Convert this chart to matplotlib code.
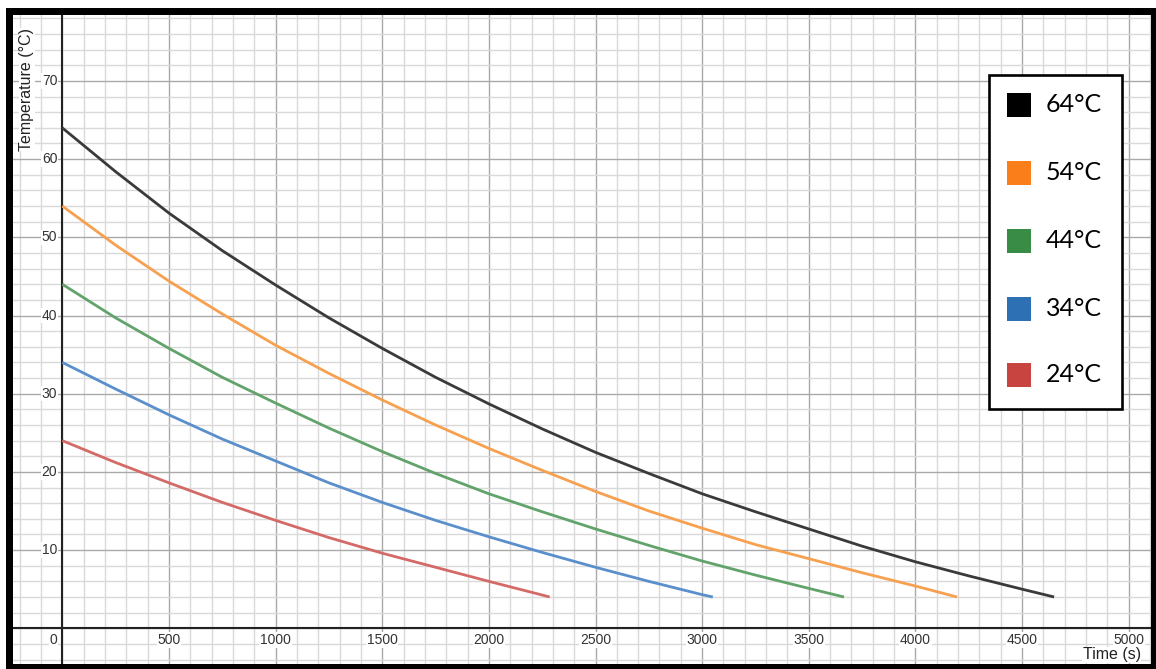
import matplotlib
matplotlib.use("Agg")
import matplotlib.pyplot as plt
from matplotlib.patches import Rectangle
import numpy as np

# ---------------- data ----------------
series_labels = ["64°C", "54°C", "44°C", "34°C", "24°C"]

t_64 = [0, 250, 500, 750, 1000, 1250, 1500, 1750, 2000, 2250, 2500, 2750,
        3000, 3250, 3500, 3750, 4000, 4250, 4500, 4650]
T_64 = [64.0, 58.4, 53.1, 48.3, 43.9, 39.7, 35.8, 32.1, 28.7, 25.5, 22.5, 19.8,
        17.2, 14.9, 12.7, 10.5, 8.5, 6.7, 5.0, 4.0]

t_54 = [0, 250, 500, 750, 1000, 1250, 1500, 1750, 2000, 2250, 2500, 2750,
        3000, 3250, 3500, 3750, 4000, 4195]
T_54 = [54.0, 49.0, 44.4, 40.2, 36.2, 32.6, 29.2, 26.0, 23.0, 20.2, 17.5, 15.0,
        12.8, 10.7, 8.9, 7.1, 5.4, 4.0]

t_44 = [0, 250, 500, 750, 1000, 1250, 1500, 1750, 2000, 2250, 2500, 2750,
        3000, 3250, 3500, 3665]
T_44 = [44.0, 39.7, 35.8, 32.1, 28.8, 25.6, 22.6, 19.8, 17.2, 14.9, 12.7, 10.6,
        8.6, 6.8, 5.1, 4.0]

t_34 = [0, 250, 500, 750, 1000, 1250, 1500, 1750, 2000, 2250, 2500, 2750,
        3000, 3050]
T_34 = [34.0, 30.6, 27.3, 24.2, 21.4, 18.6, 16.1, 13.8, 11.7, 9.7, 7.8, 6.0,
        4.3, 4.0]

t_24 = [0, 250, 500, 750, 1000, 1250, 1500, 1750, 2000, 2250, 2285]
T_24 = [24.0, 21.2, 18.6, 16.1, 13.8, 11.6, 9.6, 7.8, 6.0, 4.25, 4.0]

x_tick_labels = [500, 1000, 1500, 2000, 2500, 3000, 3500, 4000, 4500, 5000]
y_tick_labels = [10, 20, 30, 40, 50, 60, 70]

legend_colors = ["#000000", "#fa7e19", "#388c46", "#2d70b3", "#c74440"]
curve_colors = ["#3a3a3a", "#f7a050", "#62a36b", "#5a8fcb", "#d46a68"]

# ---------------- figure ----------------
W, H = 1156, 669
fig = plt.figure(figsize=(W / 100, H / 100), dpi=100)
fig.patch.set_facecolor("white")

def fx(px):
    return px / W

def fy(py):
    return 1 - py / H

ax_left, ax_right, ax_top, ax_bottom = 13, 1152, 14, 664
ax = fig.add_axes([fx(ax_left), fy(ax_bottom), fx(ax_right - ax_left), (ax_bottom - ax_top) / H])
for s in ax.spines.values():
    s.set_visible(False)

ax.set_xticks(np.arange(-500, 5501, 500))
ax.set_xticks(np.arange(-500, 5501, 100), minor=True)
ax.set_yticks(np.arange(-10, 81, 10))
ax.set_yticks(np.arange(-10, 81, 2), minor=True)
ax.set_xlim(-231, 5109)
ax.set_ylim(-4.57, 78.56)
ax.tick_params(which="both", length=0, labelbottom=False, labelleft=False)
ax.grid(which="minor", color="#d9d9d9", lw=1.0, zorder=0)
ax.grid(which="major", color="#a9a9a9", lw=1.0, zorder=0)
ax.set_axisbelow(True)

ax.axhline(0, color="#222222", lw=1.5, zorder=2)
ax.axvline(0, color="#222222", lw=1.5, zorder=2)

series = [(t_64, T_64), (t_54, T_54), (t_44, T_44), (t_34, T_34), (t_24, T_24)]
for (tt, TT), c in zip(series, curve_colors):
    ax.plot(tt, TT, color=c, lw=2.0, solid_capstyle="butt",
            solid_joinstyle="round", zorder=3)

tick_font = dict(family="Liberation Sans", fontsize=10, color="#333333")
bb = dict(facecolor="white", edgecolor="none", pad=0.5)
for v in y_tick_labels:
    ax.annotate(str(v), xy=(0, v), xytext=(-5 * 0.72, 0), textcoords="offset points",
                ha="right", va="center", bbox=bb, zorder=4, **tick_font)
for v in x_tick_labels:
    ax.annotate(str(v), xy=(v, 0), xytext=(0, -11.7 * 0.72), textcoords="offset points",
                ha="center", va="center", bbox=bb, zorder=4, **tick_font)
ax.annotate("0", xy=(0, 0), xytext=(-5 * 0.72, -11.7 * 0.72), textcoords="offset points",
            ha="right", va="center", bbox=bb, zorder=4, **tick_font)

label_font = dict(family="Liberation Sans", fontsize=11.5, color="#222222")
fig.text(fx(27), fy(28), "Temperature (°C)", rotation=90, ha="center", va="top",
         bbox=dict(facecolor="white", edgecolor="none", pad=0.3), zorder=5, **label_font)
fig.text(fx(1141), fy(655), "Time (s)", ha="right", va="center",
         bbox=dict(facecolor="white", edgecolor="none", pad=0.3), zorder=5, **label_font)

# ---------------- legend box ----------------
lx0, ly0, lx1, ly1 = 989, 75, 1121.7, 409
fig.patches.append(Rectangle((fx(lx0), fy(ly1)), fx(lx1 - lx0), (ly1 - ly0) / H,
                             transform=fig.transFigure, facecolor="white",
                             edgecolor="black", lw=1.9, zorder=10))
centers = [105, 172.7, 241, 309, 375]
sq = 24
for lab, c, cy in zip(series_labels, legend_colors, centers):
    fig.patches.append(Rectangle((fx(1007), fy(cy + sq / 2)), fx(sq), sq / H,
                                 transform=fig.transFigure, facecolor=c,
                                 edgecolor="none", zorder=11))
    fig.text(fx(1046), fy(cy), lab, ha="left", va="center", family="Lato",
             fontsize=18, color="black", zorder=12)

# ---------------- outer border ----------------
fig.patches.append(Rectangle((fx(9), fy(666.5)), fx(1154 - 9), (666.5 - 10.5) / H,
                             transform=fig.transFigure, facecolor="none",
                             edgecolor="black", lw=7 * 0.72, zorder=20))

fig.savefig("out.png", dpi=100)
